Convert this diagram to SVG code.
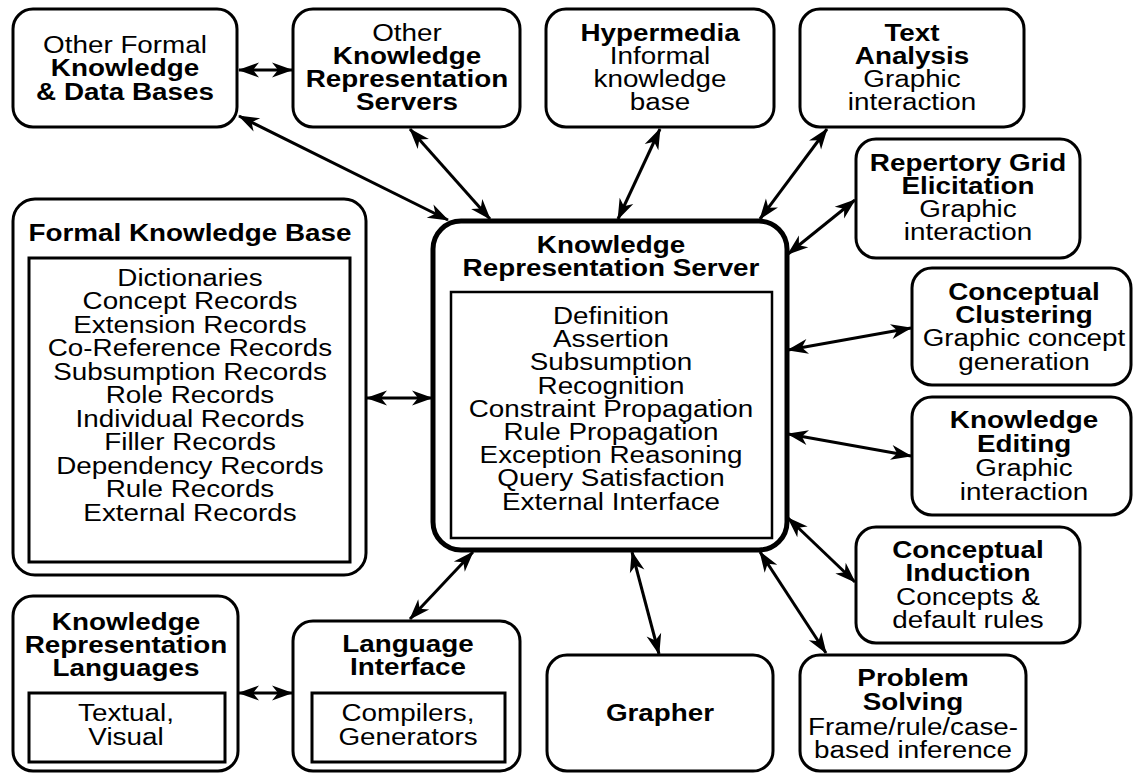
<svg xmlns="http://www.w3.org/2000/svg" width="1133" height="774" viewBox="0 0 1133 774">
  <style>
    .box { fill: #fff; stroke: #000; stroke-width: 3; }
    .core { fill: #fff; stroke: #000; stroke-width: 5; }
    .inner { fill: none; stroke: #000; stroke-width: 3; }
    .inner-thin { fill: none; stroke: #000; stroke-width: 2.5; }
    text { font-family: "Liberation Sans", Arial, Helvetica, sans-serif; font-size: 23px; text-anchor: middle; fill: #000; }
    .b { font-weight: bold; }
    .conn line { stroke: #000; stroke-width: 3; marker-start: url(#ah); marker-end: url(#ah); }
  </style>
  <defs>
    <marker id="ah" viewBox="-21 -9 23 18" refX="0" refY="0" markerWidth="23" markerHeight="18" markerUnits="userSpaceOnUse" orient="auto-start-reverse">
      <path d="M1,0 L-20,-7.5 L-14,0 L-20,7.5 Z" fill="#000"/>
    </marker>
  </defs>

  <rect width="1133" height="774" fill="#fff"/>

  <!-- connectors -->
  <g id="connectors" class="conn">
    <line x1="239" y1="70" x2="292" y2="70"/>
    <line x1="448" y1="220" x2="239" y2="116"/>
    <line x1="490" y1="219" x2="410" y2="129"/>
    <line x1="618" y1="219" x2="660" y2="129"/>
    <line x1="760" y1="219" x2="827" y2="129"/>
    <line x1="788" y1="254" x2="855" y2="200"/>
    <line x1="788" y1="350" x2="911" y2="328"/>
    <line x1="788" y1="434" x2="911" y2="456"/>
    <line x1="788" y1="518" x2="855" y2="582"/>
    <line x1="760" y1="552" x2="826" y2="653"/>
    <line x1="632" y1="552" x2="659" y2="654"/>
    <line x1="473" y1="552" x2="410" y2="619"/>
    <line x1="367" y1="398" x2="432" y2="398"/>
    <line x1="239" y1="693" x2="292" y2="693"/>
  </g>

  <!-- central server -->
  <g id="kr-server">
    <rect class="core" x="433" y="221" width="354" height="329" rx="28"/>
    <rect class="inner-thin" x="451" y="292" width="321" height="246"/>
    <g transform="translate(611 0) scale(1.21 1)">
      <text class="b" y="253">Knowledge</text>
      <text class="b" y="276">Representation Server</text>
      <text y="324">Definition</text>
      <text y="347">Assertion</text>
      <text y="370">Subsumption</text>
      <text y="394">Recognition</text>
      <text y="417">Constraint Propagation</text>
      <text y="440">Rule Propagation</text>
      <text y="463">Exception Reasoning</text>
      <text y="486">Query Satisfaction</text>
      <text y="510">External Interface</text>
    </g>
  </g>

  <g id="other-formal-kb">
    <rect class="box" x="13" y="9" width="224" height="118" rx="20"/>
    <g transform="translate(125 0) scale(1.21 1)">
      <text y="53">Other Formal</text>
      <text class="b" y="76">Knowledge</text>
      <text class="b" y="100">&amp; Data Bases</text>
    </g>
  </g>

  <g id="other-kr-servers">
    <rect class="box" x="293" y="9" width="227" height="118" rx="20"/>
    <g transform="translate(407 0) scale(1.21 1)">
      <text y="41">Other</text>
      <text class="b" y="64">Knowledge</text>
      <text class="b" y="87">Representation</text>
      <text class="b" y="110">Servers</text>
    </g>
  </g>

  <g id="hypermedia">
    <rect class="box" x="546" y="9" width="228" height="118" rx="20"/>
    <g transform="translate(660 0) scale(1.21 1)">
      <text class="b" y="41">Hypermedia</text>
      <text y="64">Informal</text>
      <text y="87">knowledge</text>
      <text y="110">base</text>
    </g>
  </g>

  <g id="text-analysis">
    <rect class="box" x="800" y="9" width="224" height="118" rx="20"/>
    <g transform="translate(912 0) scale(1.21 1)">
      <text class="b" y="41">Text</text>
      <text class="b" y="64">Analysis</text>
      <text y="87">Graphic</text>
      <text y="110">interaction</text>
    </g>
  </g>

  <g id="repertory-grid">
    <rect class="box" x="856" y="139" width="224" height="119" rx="20"/>
    <g transform="translate(968 0) scale(1.21 1)">
      <text class="b" y="171">Repertory Grid</text>
      <text class="b" y="194">Elicitation</text>
      <text y="217">Graphic</text>
      <text y="240">interaction</text>
    </g>
  </g>

  <g id="conceptual-clustering">
    <rect class="box" x="912" y="268" width="219" height="117" rx="20"/>
    <g transform="translate(1024 0) scale(1.21 1)">
      <text class="b" y="300">Conceptual</text>
      <text class="b" y="323">Clustering</text>
      <text y="346">Graphic concept</text>
      <text y="370">generation</text>
    </g>
  </g>

  <g id="knowledge-editing">
    <rect class="box" x="912" y="397" width="219" height="118" rx="20"/>
    <g transform="translate(1024 0) scale(1.21 1)">
      <text class="b" y="428">Knowledge</text>
      <text class="b" y="452">Editing</text>
      <text y="476">Graphic</text>
      <text y="500">interaction</text>
    </g>
  </g>

  <g id="conceptual-induction">
    <rect class="box" x="856" y="527" width="224" height="116" rx="20"/>
    <g transform="translate(968 0) scale(1.21 1)">
      <text class="b" y="558">Conceptual</text>
      <text class="b" y="581">Induction</text>
      <text y="605">Concepts &amp;</text>
      <text y="628">default rules</text>
    </g>
  </g>

  <g id="problem-solving">
    <rect class="box" x="800" y="655" width="226" height="116" rx="20"/>
    <g transform="translate(913 0) scale(1.21 1)">
      <text class="b" y="686">Problem</text>
      <text class="b" y="710">Solving</text>
      <text y="735">Frame/rule/case-</text>
      <text y="758">based inference</text>
    </g>
  </g>

  <g id="grapher">
    <rect class="box" x="547" y="655" width="226" height="116" rx="20"/>
    <g transform="translate(660 0) scale(1.21 1)">
      <text class="b" y="721">Grapher</text>
    </g>
  </g>

  <g id="language-interface">
    <rect class="box" x="293" y="621" width="227" height="150" rx="20"/>
    <rect class="inner" x="312" y="693" width="193" height="69"/>
    <g transform="translate(408 0) scale(1.21 1)">
      <text class="b" y="652">Language</text>
      <text class="b" y="675">Interface</text>
      <text y="721">Compilers,</text>
      <text y="745">Generators</text>
    </g>
  </g>

  <g id="kr-languages">
    <rect class="box" x="13" y="596" width="225" height="175" rx="20"/>
    <rect class="inner" x="29" y="693" width="196" height="69"/>
    <g transform="translate(126 0) scale(1.21 1)">
      <text class="b" y="630">Knowledge</text>
      <text class="b" y="653">Representation</text>
      <text class="b" y="676">Languages</text>
      <text y="721">Textual,</text>
      <text y="745">Visual</text>
    </g>
  </g>

  <g id="formal-kb">
    <rect class="box" x="13" y="199" width="353" height="376" rx="22"/>
    <rect class="inner" x="29" y="258" width="321" height="304"/>
    <g transform="translate(190 0) scale(1.21 1)">
      <text class="b" y="241">Formal Knowledge Base</text>
      <text y="286">Dictionaries</text>
      <text y="309.5">Concept Records</text>
      <text y="333">Extension Records</text>
      <text y="356.5">Co-Reference Records</text>
      <text y="380">Subsumption Records</text>
      <text y="403.5">Role Records</text>
      <text y="427">Individual Records</text>
      <text y="450.5">Filler Records</text>
      <text y="474">Dependency Records</text>
      <text y="497.5">Rule Records</text>
      <text y="521">External Records</text>
    </g>
  </g>
</svg>
